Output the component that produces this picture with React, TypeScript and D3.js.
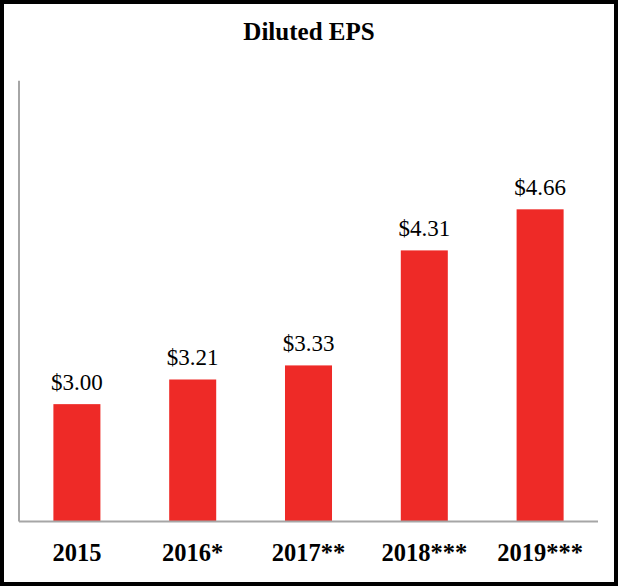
import React from "react";
import * as d3 from "d3";

const categories = ["2015", "2016*", "2017**", "2018***", "2019***"];
const values = [3.0, 3.21, 3.33, 4.31, 4.66];
const valueLabels = ["$3.00", "$3.21", "$3.33", "$4.31", "$4.66"];
const title = "Diluted EPS";

const W = 618;
const H = 586;
const plotLeft = 19;
const plotRight = 598;
const plotTop = 80.7;
const plotBottom = 521.5;

export default function App() {
  const x = d3
    .scaleBand<string>()
    .domain(categories)
    .range([plotLeft, plotRight])
    .paddingInner(0.594)
    .paddingOuter(0.297);
  const y = d3.scaleLinear().domain([2, 5.756]).range([plotBottom, plotTop]);
  const font = "Liberation Serif";

  return (
    <svg
      width={W}
      height={H}
      style={{ position: "absolute", left: 0, top: 0, background: "#fff" }}
    >
      <rect x={2} y={2} width={W - 4} height={H - 4} fill="#fff" stroke="#000" strokeWidth={4} />
      <text
        x={W / 2}
        y={40}
        textAnchor="middle"
        style={{ fontFamily: font, fontWeight: "bold", fontSize: "25px" }}
        fill="#000"
      >
        {title}
      </text>
      {categories.map((c, i) => (
        <rect
          key={c}
          x={x(c)!}
          y={y(values[i])}
          width={x.bandwidth()}
          height={plotBottom - y(values[i])}
          fill="#EE2A27"
        />
      ))}
      <line x1={plotLeft} x2={plotLeft} y1={plotTop} y2={plotBottom} stroke="#A6A6A6" strokeWidth={2} />
      <line x1={plotLeft} x2={plotRight} y1={plotBottom} y2={plotBottom} stroke="#A6A6A6" strokeWidth={2} />
      {categories.map((c, i) => (
        <text
          key={"v" + c}
          x={x(c)! + x.bandwidth() / 2}
          y={y(values[i]) - 14}
          textAnchor="middle"
          style={{ fontFamily: font, fontWeight: "normal", fontSize: "23px" }}
          fill="#000"
        >
          {valueLabels[i]}
        </text>
      ))}
      {categories.map((c) => (
        <text
          key={"c" + c}
          x={x(c)! + x.bandwidth() / 2}
          y={560.5}
          textAnchor="middle"
          style={{ fontFamily: font, fontWeight: "bold", fontSize: "24.5px" }}
          fill="#000"
        >
          {c}
        </text>
      ))}
    </svg>
  );
}
